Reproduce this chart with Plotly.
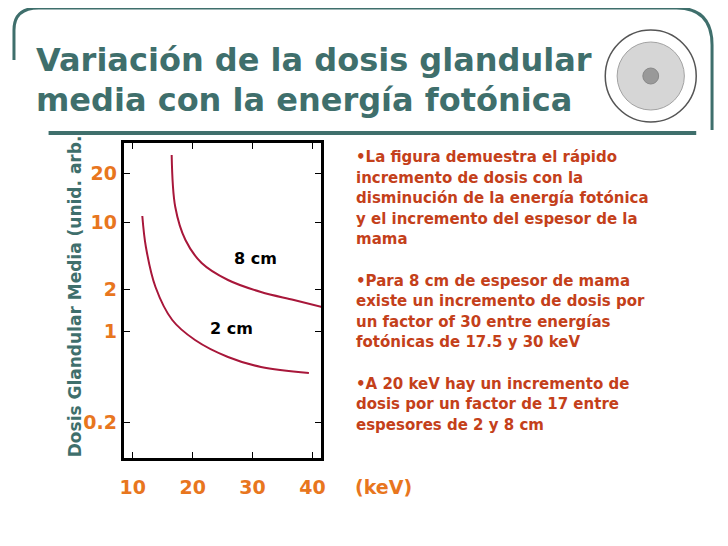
import plotly.graph_objects as go

# data (y in the chart's own warped tick scale units)
ytick_vals = [36, 127, 169, 236, 285]
ytick_text = ["0.2", "1", "2", "10", "20"]
xtick_vals = [10, 20, 30, 40]
e_2cm = [11.6, 12.2, 13.8, 16.6, 20.4, 25.9, 31.4, 39.4]
d_2cm = [242, 211, 171, 138, 118, 101, 91, 85]
e_8cm = [16.5, 17.1, 18.8, 21.5, 25.9, 31.4, 36.9, 41.6]
d_8cm = [303, 251, 218, 195, 178, 166, 158, 151]

W, H = 712, 530
def px(x): return (x - 8) / W
def py(y): return 1 - (y - 8) / H

TEAL = "#3f6f6c"
ORANGE = "#e8761e"
RED = "#c4401a"
CURVE = "#a8173a"
F = "Liberation Sans"
FD = "DejaVu Sans"

fig = go.Figure()
for e, d in [(e_2cm, d_2cm), (e_8cm, d_8cm)]:
    fig.add_trace(go.Scatter(x=e, y=d, mode="lines", line=dict(color=CURVE, width=2, shape="spline"),
                             showlegend=False, hoverinfo="skip"))

fig.update_layout(
    width=W, height=H, margin=dict(l=0, r=0, t=0, b=0),
    paper_bgcolor="white", plot_bgcolor="white",
    xaxis=dict(domain=[px(121), px(321)], range=[8.5, 41.5], tickvals=xtick_vals,
               ticks="inside", ticklen=6, tickcolor="black", showgrid=False, zeroline=False,
               showline=True, linecolor="black", linewidth=3, mirror="ticks",
               ticklabelstandoff=10,
               tickfont=dict(family=FD, size=19, color=ORANGE, weight="bold")),
    yaxis=dict(domain=[py(458), py(143)], range=[0, 315], tickvals=ytick_vals, ticktext=ytick_text,
               ticks="inside", ticklen=6, tickcolor="black", showgrid=False, zeroline=False,
               showline=True, linecolor="black", linewidth=3, mirror="ticks",
               tickfont=dict(family=FD, size=19, color=ORANGE, weight="bold")),
)

ann = []
def A(x, y, text, size, color, xanchor="left", angle=0, family=F):
    ann.append(dict(xref="paper", yref="paper", x=px(x), y=py(y), text=text, showarrow=False,
                    font=dict(family=family, size=size, color=color, weight="bold"),
                    xanchor=xanchor, yanchor="middle", textangle=angle, align="left"))

A(30, 60, "Variación de la dosis glandular", 32, TEAL, family=FD)
A(30, 100, "media con la energía fotónica", 32, TEAL, family=FD)
A(72, 296, "Dosis Glandular Media (unid. arb.", 17, TEAL, xanchor="center", angle=-90, family=FD)
A(254, 258, "8 cm", 16, "black", xanchor="center", family=FD)
A(230, 328, "2 cm", 16, "black", xanchor="center", family=FD)
A(353, 487, "(keV)", 19, ORANGE, family=FD)
lines = ["•La figura demuestra el rápido", "incremento de dosis con la", "disminución de la energía fotónica",
         "y el incremento del espesor de la", "mama", "", "•Para 8 cm de espesor de mama",
         "existe un incremento de dosis por", "un factor of 30 entre energías",
         "fotónicas de 17.5 y 30 keV", "", "•A 20 keV hay un incremento de",
         "dosis por un factor de 17 entre", "espesores de 2 y 8 cm"]
for i, t in enumerate(lines):
    if t:
        A(354, 157 + i * 20.6, t, 15, RED, family=FD)
fig.update_layout(annotations=ann)

shapes = [
    dict(type="line", xref="paper", yref="paper", x0=px(45), x1=px(700), y0=py(133), y1=py(133),
         line=dict(color=TEAL, width=4)),
    dict(type="path", xref="paper", yref="paper",
         path=f"M {px(10)},{py(60)} L {px(10)},{py(30)} Q {px(10)},{py(8)} {px(35)},{py(8)} "
              f"L {px(680)},{py(8)} Q {px(716)},{py(8)} {px(716)},{py(45)} L {px(716)},{py(130)}",
         line=dict(color=TEAL, width=3)),
    dict(type="circle", xref="paper", yref="paper", x0=px(608), x1=px(700), y0=py(122), y1=py(30),
         line=dict(color="#555", width=1.5)),
    dict(type="circle", xref="paper", yref="paper", x0=px(620), x1=px(688), y0=py(110), y1=py(42),
         line=dict(color="#666", width=1), fillcolor="#bbbbbb", opacity=0.6),
    dict(type="circle", xref="paper", yref="paper", x0=px(646), x1=px(662), y0=py(84), y1=py(68),
         line=dict(color="#888", width=1), fillcolor="#999"),
]
fig.update_layout(shapes=shapes)
fig.write_html("out.html")
